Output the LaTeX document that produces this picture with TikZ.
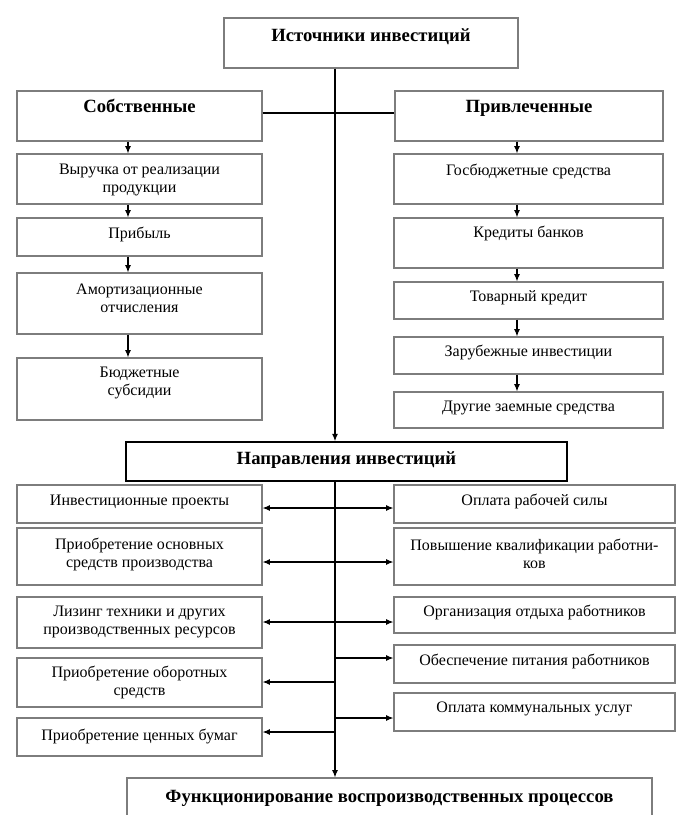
\documentclass[tikz,border=0pt]{standalone}
\usepackage{fontspec}
\setmainfont{Liberation Serif}
\usetikzlibrary{fit,calc,arrows.meta}
\definecolor{boxgray}{RGB}{125,125,125}
\tikzset{
  box/.style={draw=boxgray, line width=0.9pt, inner sep=0pt},
  hbox/.style={draw=black, line width=1.3pt, inner sep=0pt},
  txtm/.style={font=\fontsize{12}{13.5}\selectfont, align=center, inner sep=0pt},
  txt/.style={font=\fontsize{12}{13.5}\selectfont, align=center, inner sep=0pt, text height=8.3pt, text depth=2.7pt},
  htxt/.style={font=\fontsize{14}{16}\selectfont\bfseries, align=center, inner sep=0pt, text height=9.6pt, text depth=3pt},
  conn/.style={line width=0.8pt, draw=black},
  arr/.style={conn, -{Latex[length=5.5pt,width=4.5pt]}},
  arrb/.style={conn, {Latex[length=5.5pt,width=4.5pt]}-{Latex[length=5.5pt,width=4.5pt]}},
}
% name, x1, y1, x2, y2, text-y, text style, text, box style
\newcommand\mybox[9]{%
  \node[#9, fit={(#2,#3) (#4,#5)}] (#1) {};
  \node[#7] (#1t) at ({(#2+#4)/2},#6) {#8};
}
\begin{document}
\begin{tikzpicture}[x=0.75pt,y=-0.75pt]
\useasboundingbox (0,0) rectangle (700,815);
\clip (0,0) rectangle (700,815);
\coordinate (colL) at (128,0);
\coordinate (colR) at (517,0);
\coordinate (mid) at (335,0);

% top
\mybox{top}{224}{18}{518}{68}{37}{htxt}{Источники инвестиций}{box}
\mybox{sob}{17}{91}{262}{141}{108}{htxt}{Собственные}{box}
\mybox{pri}{395}{91}{663}{141}{108}{htxt}{Привлеченные}{box}

% left column
\mybox{vyr}{17}{154}{262}{204}{180}{txtm}{Выручка от реализации\\продукции}{box}
\mybox{prib}{17}{218}{262}{256}{235}{txt}{Прибыль}{box}
\mybox{amort}{17}{273}{262}{334}{298}{txtm}{Амортизационные\\отчисления}{box}
\mybox{budg}{17}{358}{262}{420}{383}{txtm}{Бюджетные\\субсидии}{box}

% right column
\mybox{gos}{394}{154}{663}{204}{172}{txt}{Госбюджетные средства}{box}
\mybox{kred}{394}{218}{663}{268}{234}{txt}{Кредиты банков}{box}
\mybox{tov}{394}{282}{663}{319}{298}{txt}{Товарный кредит}{box}
\mybox{zar}{394}{337}{663}{374}{353}{txt}{Зарубежные инвестиции}{box}
\mybox{dr}{394}{392}{663}{428}{408}{txt}{Другие заемные средства}{box}

% directions
\mybox{napr}{126}{442}{567}{481}{460}{htxt}{Направления инвестиций}{hbox}

\mybox{inv}{17}{485}{262}{523}{502}{txt}{Инвестиционные проекты}{box}
\mybox{osn}{17}{528}{262}{585}{554}{txtm}{Приобретение основных\\средств производства}{box}
\mybox{liz}{17}{597}{262}{648}{622}{txtm}{Лизинг техники и других\\производственных ресурсов}{box}
\mybox{obor}{17}{658}{262}{707}{682}{txtm}{Приобретение оборотных\\средств}{box}
\mybox{cen}{17}{718}{262}{756}{737}{txt}{Приобретение ценных бумаг}{box}

\mybox{opl}{394}{485}{675}{523}{502}{txt}{Оплата рабочей силы}{box}
\mybox{pov}{394}{528}{675}{585}{554}{txtm}{Повышение квалификации работни-\\ков}{box}
\mybox{org}{394}{597}{675}{633}{613}{txt}{Организация отдыха работников}{box}
\mybox{obe}{394}{645}{675}{683}{662}{txt}{Обеспечение питания работников}{box}
\mybox{kom}{394}{693}{675}{731}{709}{txt}{Оплата коммунальных услуг}{box}

\mybox{func}{127}{778}{652}{845}{798}{htxt}{Функционирование воспроизводственных процессов}{box}

% connectors top
\coordinate (h1) at (0,113);
\draw[conn] (sob.east |- h1) -- (pri.west |- h1);
\draw[arr] (top.south -| mid) -- (napr.north -| mid);
\draw[arr] (napr.south -| mid) -- (func.north -| mid);

\draw[arr] (sob.south -| colL) -- (vyr.north -| colL);
\draw[arr] (vyr.south -| colL) -- (prib.north -| colL);
\draw[arr] (prib.south -| colL) -- (amort.north -| colL);
\draw[arr] (amort.south -| colL) -- (budg.north -| colL);

\draw[arr] (pri.south -| colR) -- (gos.north -| colR);
\draw[arr] (gos.south -| colR) -- (kred.north -| colR);
\draw[arr] (kred.south -| colR) -- (tov.north -| colR);
\draw[arr] (tov.south -| colR) -- (zar.north -| colR);
\draw[arr] (zar.south -| colR) -- (dr.north -| colR);

% horizontal connectors
\coordinate (r1) at (0,508);
\coordinate (r2) at (0,562);
\coordinate (r3) at (0,622);
\coordinate (r4) at (0,658);
\coordinate (r5) at (0,682);
\coordinate (r6) at (0,718);
\coordinate (r7) at (0,732);
\draw[arrb] (inv.east |- r1) -- (opl.west |- r1);
\draw[arrb] (osn.east |- r2) -- (pov.west |- r2);
\draw[arrb] (liz.east |- r3) -- (org.west |- r3);
\draw[arr] (mid |- r4) -- (obe.west |- r4);
\draw[arr] (mid |- r5) -- (obor.east |- r5);
\draw[arr] (mid |- r6) -- (kom.west |- r6);
\draw[arr] (mid |- r7) -- (cen.east |- r7);
\end{tikzpicture}
\end{document}
